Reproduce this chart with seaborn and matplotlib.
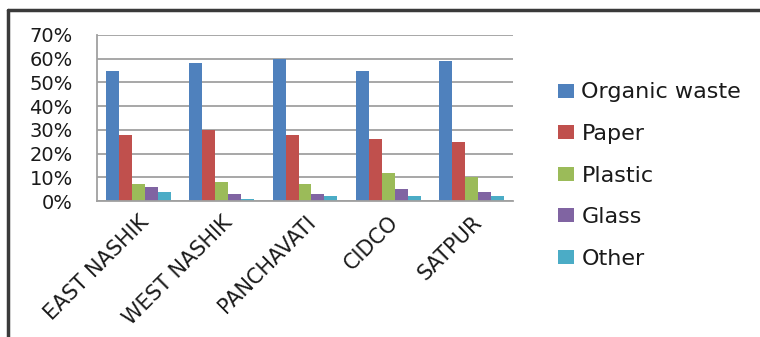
import matplotlib
matplotlib.use("Agg")
import matplotlib.pyplot as plt
from matplotlib.lines import Line2D
from matplotlib.ticker import PercentFormatter, FixedLocator
import seaborn as sns
import pandas as pd

# Waste composition by zone (fractions)
zones = ["EAST NASHIK", "WEST NASHIK", "PANCHAVATI", "CIDCO", "SATPUR"]
materials = ["Organic waste", "Paper", "Plastic", "Glass", "Other"]
organic = [0.55, 0.58, 0.60, 0.55, 0.59]
paper = [0.28, 0.30, 0.28, 0.26, 0.25]
plastic = [0.07, 0.08, 0.07, 0.12, 0.10]
glass = [0.06, 0.03, 0.03, 0.05, 0.04]
other = [0.04, 0.01, 0.02, 0.02, 0.02]
colors = ["#4F81BD", "#C0504D", "#9BBB59", "#8064A2", "#4BACC6"]

series = dict(zip(materials, [organic, paper, plastic, glass, other]))
rows = []
for mat, vals in series.items():
    for zone, v in zip(zones, vals):
        rows.append({"Zone": zone, "Material": mat, "Share": v})
df = pd.DataFrame(rows)

sns.set_style("white")
plt.rcParams["font.family"] = ["DejaVu Sans"]

fig = plt.figure(figsize=(7.6, 3.37), dpi=100)
ax = fig.add_axes([97 / 760, 1 - 201 / 337, (513 - 97) / 760, (201 - 35) / 337])

sns.barplot(data=df, x="Zone", y="Share", hue="Material", order=zones,
            hue_order=materials, palette=colors, width=0.78, gap=0,
            saturation=1, errorbar=None, linewidth=0, ax=ax, legend=True)

ax.set_ylim(0, 0.70)
ax.set_xlim(-0.5, len(zones) - 0.5)
ax.yaxis.set_major_locator(FixedLocator([i / 10 for i in range(8)]))
ax.yaxis.set_major_formatter(PercentFormatter(1.0, decimals=0))
ax.grid(axis="y", color="#A0A0A0", linewidth=1.3)
ax.set_axisbelow(True)
ax.set_xlabel("")
ax.set_ylabel("")

for side in ("top", "right"):
    ax.spines[side].set_visible(False)
for side in ("left", "bottom"):
    ax.spines[side].set_color("#A0A0A0")
    ax.spines[side].set_linewidth(1.3)

ax.tick_params(axis="y", length=6.5, width=1.3, color="#A0A0A0",
               labelsize=14, labelcolor="#1a1a1a", pad=11)
ax.set_xticks(range(len(zones)))
ax.set_xticks([i - 0.5 for i in range(len(zones) + 1)], minor=True)
ax.tick_params(axis="x", which="major", length=0, labelsize=15,
               labelcolor="#1a1a1a", pad=8)
ax.tick_params(axis="x", which="minor", length=6, width=1.3, color="#A0A0A0")
ax.set_xticklabels(zones, rotation=45, ha="right", rotation_mode="anchor")

handles, labels = ax.get_legend_handles_labels()
ax.get_legend().remove()
fig.legend(handles, labels, loc="center left",
           bbox_to_anchor=(547 / 760, 1 - 175.5 / 337), frameon=False,
           fontsize=16, handlelength=0.7, handleheight=0.6,
           handletextpad=0.35, labelspacing=0.97, borderpad=0,
           labelcolor="#1a1a1a")

# Outer frame (top and left edges)
fig.add_artist(Line2D([8 / 760, 1], [1 - 10 / 337, 1 - 10 / 337],
                      transform=fig.transFigure, color="#3a3a3a", linewidth=2.5))
fig.add_artist(Line2D([8 / 760, 8 / 760], [0, 1 - 10 / 337],
                      transform=fig.transFigure, color="#3a3a3a", linewidth=2.5))

fig.savefig("out.png", dpi=100)
